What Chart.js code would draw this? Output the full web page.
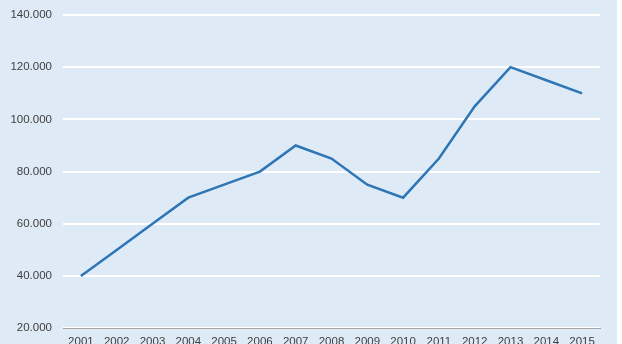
<!DOCTYPE html>
<html>
<head>
<meta charset="utf-8">
<script src="https://cdn.jsdelivr.net/npm/chart.js@4"></script>
<style>
  html, body { margin: 0; padding: 0; background: #ffffff; overflow: hidden; }
  .wrap { position: relative; width: 617px; height: 356px; background: #deebf7; }
</style>
</head>
<body>
<div class="wrap"><canvas id="chart" width="617" height="356"></canvas></div>
<script>
// years on the x axis
const years = ['2001', '2002', '2003', '2004', '2005', '2006', '2007', '2008',
               '2009', '2010', '2011', '2012', '2013', '2014', '2015'];
// values
const values = [40000, 50000, 60000, 70000, 75000, 80000, 90000, 85000,
                75000, 70000, 85000, 105000, 120000, 115000, 110000];
// y axis range
const yMin = 20000;
const yMax = 140000;
const yStep = 20000;

const fmt = v => v.toLocaleString('de-DE', { minimumFractionDigits: 0 });

const ctx = document.getElementById('chart').getContext('2d');
new Chart(ctx, {
    type: 'line',
    data: {
        labels: years,
        datasets: [{
            data: values,
            borderColor: '#2e75b6',
            borderWidth: 2.5,
            pointRadius: 0,
            tension: 0,
            fill: false
        }]
    },
    options: {
        responsive: false,
        animation: false,
        layout: { padding: { top: 15, right: 17, left: 0, bottom: 0 } },
        plugins: { legend: { display: false }, tooltip: { enabled: false } },
        scales: {
            x: {
                offset: true,
                grid: { display: false, drawTicks: false },
                border: { display: true, color: '#a6a6a6', width: 1 },
                ticks: {
                    color: '#404040', padding: 7, maxRotation: 0, autoSkip: false,
                    font: { family: 'Liberation Sans', size: 11.5 }
                }
            },
            y: {
                min: yMin,
                max: yMax,
                afterFit: s => { s.width = 63; s.paddingTop = 0; s.paddingBottom = 0; },
                grid: { color: '#ffffff', lineWidth: 2, drawTicks: false },
                border: { display: false },
                ticks: {
                    stepSize: yStep,
                    color: '#404040',
                    padding: 11,
                    font: { family: 'Liberation Sans', size: 11.5 },
                    callback: v => fmt(v)
                }
            }
        }
    }
});
</script>
</body>
</html>
